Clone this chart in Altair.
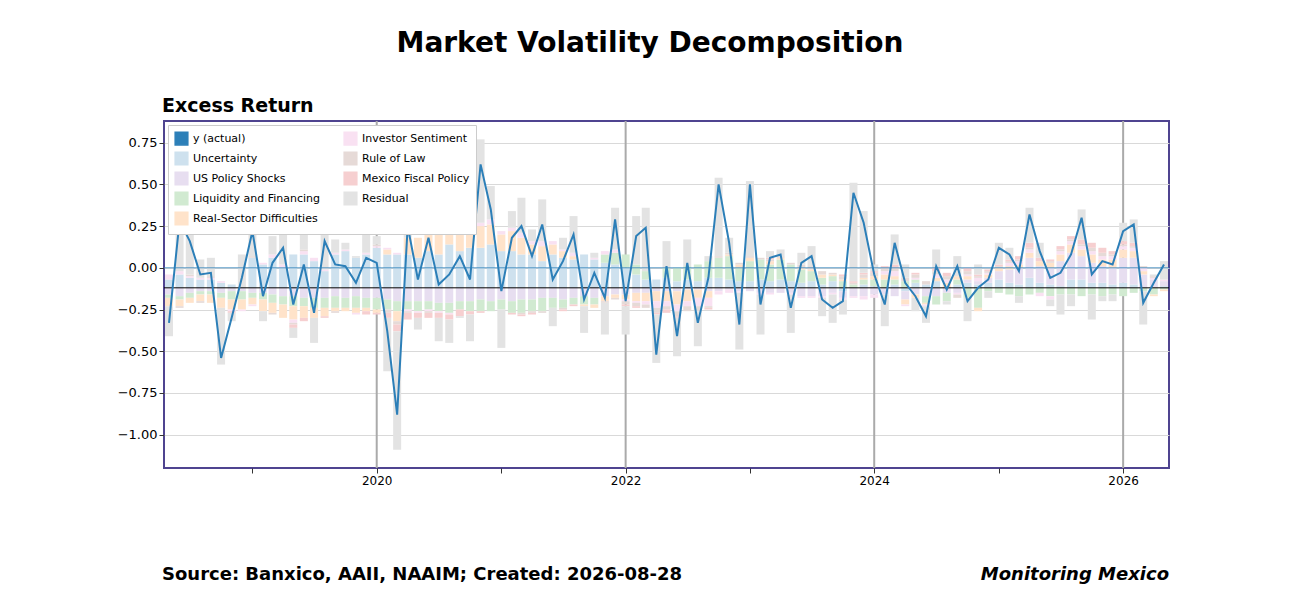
import altair as alt
import pandas as pd

# monthly, 2018-05 .. 2026-05
START = "2018-05-01"
N_MONTHS = 97
BASE = -0.12

Y_ACTUAL = [
    -0.33, 0.28, 0.16, -0.04, -0.03, -0.54, -0.30, -0.06,
    0.22, -0.17, 0.03, 0.12, -0.22, 0.02, -0.27, 0.16, 0.02, 0.01, -0.09, 0.06,
    0.03, -0.38, -0.88, 0.25, -0.07, 0.18, -0.10, -0.04, 0.07, -0.07, 0.62, 0.35,
    -0.14, 0.18, 0.25, 0.07, 0.26, -0.07, 0.04, 0.20, -0.19, -0.03, -0.18, 0.29,
    -0.20, 0.19, 0.24, -0.52, 0.01, -0.41, 0.03, -0.33, -0.06, 0.50, 0.15, -0.34,
    0.50, -0.22, 0.06, 0.08, -0.24, 0.03, 0.07, -0.19, -0.24, -0.20, 0.45, 0.27,
    -0.04, -0.22, 0.15, -0.09, -0.17, -0.29, 0.01, -0.13, 0.01, -0.20, -0.12, -0.07,
    0.12, 0.08, -0.02, 0.32, 0.10, -0.06, -0.03, 0.08, 0.30, -0.04, 0.04, 0.02,
    0.22, 0.26, -0.21, -0.09, 0.02,
]

UNCERTAINTY = [
    0.05, 0.08, 0.06, 0.05, 0.05, 0.03, 0.02, 0.0,
    0.18, 0.14, 0.18, 0.12, 0.2, 0.2, 0.16, 0.1, 0.2, 0.22, 0.18, 0.2,
    0.24, 0.2, 0.2, 0.2, 0.18, 0.22, 0.2, 0.26, 0.22, 0.24, 0.24, 0.26,
    0.22, 0.22, 0.2, 0.2, 0.16, 0.2, 0.18, 0.17, 0.2, 0.17, 0.15, 0.14,
    0.12, 0.08, 0.05, 0.05, 0.06, 0.04, 0.05, 0.04, 0.06, 0.06, 0.05, 0.04,
    0.04, 0.05, 0.04, 0.05, 0.04, 0.03, 0.04, 0.02, 0.04, -0.02, 0.0, 0.02,
    0.01, 0.0, 0.02, -0.02, 0.03, 0.02, 0.04, 0.0, 0.02, 0.03, 0.02, 0.03,
    0.05, 0.03, 0.02, 0.06, 0.03, 0.02, 0.01, 0.05, 0.05, 0.03, 0.03, 0.02,
    0.03, 0.02, 0.0, 0.0, 0.01,
]
US_POLICY = [
    -0.04, -0.05, -0.03, -0.02, -0.02, -0.03, -0.02, -0.02,
    -0.03, -0.03, -0.04, -0.05, -0.05, -0.06, -0.06, -0.06, -0.05, -0.06, -0.05, -0.06,
    -0.06, -0.07, -0.08, -0.08, -0.08, -0.08, -0.09, -0.09, -0.08, -0.08, -0.07, -0.08,
    -0.07, -0.08, -0.07, -0.07, -0.06, -0.06, -0.07, -0.06, -0.05, -0.06, -0.05, -0.04,
    -0.04, -0.03, -0.03, -0.02, -0.02, -0.02, -0.01, -0.01, -0.02, -0.02, -0.01, -0.02,
    -0.02, -0.03, -0.03, -0.03, -0.03, -0.05, -0.05, -0.05, -0.03, -0.04, -0.05, -0.05,
    -0.04, -0.04, -0.05, -0.05, -0.04, -0.05, -0.05, -0.03, -0.03, 0.02, 0.02, 0.03,
    0.05, 0.08, 0.1, 0.12, 0.1, 0.1, 0.15, 0.16, 0.14, 0.12, 0.1, 0.1,
    0.15, 0.16, 0.08, 0.05, 0.03,
]
LIQUIDITY = [
    -0.02, -0.02, -0.03, -0.02, -0.02, -0.03, -0.05, -0.05,
    -0.03, -0.04, -0.05, -0.05, -0.06, -0.05, -0.06, -0.06, -0.07, -0.06, -0.07, -0.06,
    -0.07, -0.06, -0.06, -0.05, -0.06, -0.05, -0.05, -0.06, -0.05, -0.06, -0.07, -0.06,
    -0.06, -0.07, -0.08, -0.07, -0.08, -0.06, -0.05, -0.04, -0.05, -0.04, 0.05, 0.07,
    0.08, 0.06, 0.05, 0.0, 0.06, 0.08, 0.08, 0.1, 0.1, 0.12, 0.14, 0.08,
    0.12, 0.12, 0.1, 0.12, 0.1, 0.08, 0.06, 0.04, 0.03, 0.04, 0.02, 0.03,
    0.04, 0.05, 0.03, 0.04, 0.02, -0.04, -0.05, -0.05, 0.03, -0.06, -0.12, -0.02,
    -0.03, -0.04, -0.05, -0.04, -0.03, -0.05, -0.04, -0.04, -0.05, -0.04, -0.05, -0.04,
    -0.05, -0.03, -0.02, -0.04, -0.01,
]
REAL_SECTOR = [
    -0.05, -0.04, -0.03, -0.04, -0.05, -0.06, -0.06, -0.06,
    -0.04, -0.07, -0.06, -0.08, -0.08, -0.07, -0.06, -0.05, -0.02, -0.02, -0.03, -0.02,
    -0.02, 0.03, -0.06, 0.1, 0.12, 0.12, 0.14, 0.15, 0.14, 0.12, 0.13, 0.12,
    0.1, 0.12, 0.1, 0.06, 0.09, 0.06, 0.04, 0.02, -0.01, -0.02, -0.03, -0.02,
    -0.03, -0.05, -0.05, -0.06, -0.06, -0.08, -0.07, -0.05, -0.04, 0.0, 0.01, 0.02,
    0.02, 0.0, 0.02, 0.01, 0.0, 0.01, 0.01, 0.02, 0.01, 0.01, 0.0, 0.01,
    0.02, 0.03, 0.02, -0.03, -0.02, -0.01, 0.02, 0.03, 0.02, 0.02, -0.02, 0.02,
    0.02, 0.02, 0.02, 0.03, 0.03, 0.03, 0.04, 0.05, 0.04, 0.05, 0.04, 0.05,
    0.05, 0.04, 0.02, -0.01, -0.01,
]
INVESTOR = [
    0.03, 0.02, 0.01, 0.01, 0.01, 0.01, -0.01, -0.01,
    -0.01, 0.01, 0.02, 0.02, -0.02, 0.02, 0.02, 0.01, 0.01, 0.01, -0.01, 0.01,
    0.01, 0.01, 0.01, -0.01, -0.01, -0.01, -0.01, -0.01, 0.01, 0.01, 0.02, 0.03,
    0.02, 0.02, 0.03, 0.02, 0.03, 0.02, 0.01, 0.02, 0.0, 0.01, 0.02, 0.02,
    -0.01, -0.01, -0.02, -0.04, -0.03, -0.04, -0.03, -0.05, -0.05, -0.02, -0.02, -0.01,
    0.0, -0.01, -0.01, 0.0, -0.01, -0.01, -0.01, -0.01, -0.01, -0.01, -0.01, -0.02,
    -0.02, 0.02, 0.03, -0.01, 0.01, -0.01, 0.02, 0.02, -0.01, 0.01, 0.02, 0.01,
    0.0, 0.02, 0.02, 0.02, -0.02, -0.02, 0.02, 0.02, 0.02, 0.02, 0.02, 0.02,
    0.02, 0.02, 0.02, 0.01, 0.01,
]
RULE_OF_LAW = [
    0.0, -0.01, 0.01, -0.01, 0.01, 0.0, 0.0, 0.0,
    0.01, 0.0, -0.01, 0.0, -0.01, 0.01, 0.0, 0.0, -0.01, 0.0, 0.0, 0.0,
    0.01, -0.02, -0.02, -0.01, 0.0, -0.01, 0.0, 0.0, 0.0, 0.0, 0.0, 0.0,
    0.0, 0.0, -0.01, -0.01, -0.01, 0.0, -0.01, 0.0, 0.0, 0.0, -0.01, -0.01,
    -0.02, -0.02, -0.02, -0.03, -0.02, -0.03, -0.03, -0.03, -0.01, 0.01, 0.01, 0.01,
    0.01, 0.01, 0.01, 0.01, 0.01, 0.02, 0.02, 0.02, 0.01, 0.02, 0.01, 0.02,
    0.02, 0.02, 0.02, 0.02, 0.02, 0.02, 0.02, 0.02, -0.02, 0.02, 0.01, 0.01,
    0.01, 0.01, 0.01, 0.01, 0.0, 0.01, 0.01, 0.01, 0.01, 0.02, 0.02, 0.01,
    0.01, 0.01, 0.01, 0.01, 0.0,
]
FISCAL = [
    0.0, 0.0, 0.0, 0.0, 0.0, 0.0, -0.01, 0.0,
    0.0, 0.0, 0.0, 0.0, -0.02, -0.02, 0.0, -0.01, 0.0, 0.0, 0.0, -0.02,
    -0.01, -0.03, -0.04, -0.04, -0.03, -0.03, -0.03, -0.03, -0.04, -0.02, -0.01, 0.0,
    0.0, -0.01, -0.01, -0.01, 0.0, 0.0, -0.01, -0.01, 0.0, 0.0, 0.0, 0.0,
    -0.01, -0.01, 0.0, -0.01, -0.02, -0.01, 0.0, 0.0, -0.01, 0.0, 0.0, 0.0,
    0.0, 0.0, 0.01, 0.0, 0.0, 0.0, 0.0, 0.0, 0.0, 0.01, 0.01, 0.01,
    0.01, 0.01, 0.02, 0.0, 0.01, 0.0, 0.02, 0.02, 0.0, 0.02, 0.01, 0.01,
    0.01, 0.01, 0.02, 0.03, 0.02, 0.01, 0.02, 0.02, 0.03, 0.03, 0.03, 0.02,
    0.02, 0.02, 0.0, 0.0, 0.0,
]

# pastel tones (tab10 colours at ~22% over white)
COMPONENTS = [
    ("Uncertainty", UNCERTAINTY, "#cee1ee"),
    ("US Policy Shocks", US_POLICY, "#e7def0"),
    ("Liquidity and Financing", LIQUIDITY, "#d1ead1"),
    ("Real-Sector Difficulties", REAL_SECTOR, "#ffe3ca"),
    ("Investor Sentiment", INVESTOR, "#f9e1f2"),
    ("Rule of Law", RULE_OF_LAW, "#e6dad7"),
    ("Mexico Fiscal Policy", FISCAL, "#f6cfd0"),
]
RESIDUAL_COLOR = "#e3e3e3"
LINE_COLOR = "#2c7fb8"

dates = pd.date_range(START, periods=N_MONTHS, freq="MS")

# residual = what the named components leave unexplained
residual = [
    Y_ACTUAL[i] - BASE - sum(c[1][i] for c in COMPONENTS) for i in range(N_MONTHS)
]
series = COMPONENTS + [("Residual", residual, RESIDUAL_COLOR)]

rows = []
for i, d in enumerate(dates):
    pos = neg = BASE
    for name, vals, _ in series:
        v = vals[i]
        if v >= 0:
            rows.append({"date": d, "series": name, "y0": pos, "y1": pos + v})
            pos += v
        else:
            rows.append({"date": d, "series": name, "y0": neg, "y1": neg + v})
            neg += v
bars_df = pd.DataFrame(rows)
line_df = pd.DataFrame({"date": dates, "y": Y_ACTUAL})

legend_order = ["y (actual)"] + [n for n, _, _ in series]
color_map = {n: c for n, _, c in series}
color_map["y (actual)"] = LINE_COLOR
COLOR_SCALE = alt.Scale(domain=legend_order, range=[color_map[n] for n in legend_order])

W, H = 1005, 347
x_scale = alt.Scale(domain=["2018-05-01", "2026-05-01"], nice=False)
y_scale = alt.Scale(domain=[-1.2, 0.88], nice=False, zero=False)

x_axis = alt.Axis(
    title=None, grid=False, values=[f"{y}-01-01" for y in range(2019, 2027)],
    labelExpr="year(datum.value) % 2 == 0 ? timeFormat(datum.value, '%Y') : ''",
    labelFontSize=12, tickColor="#333", labelColor="#000", domain=False,
)
y_axis = alt.Axis(
    title=None, values=[-1.0, -0.75, -0.5, -0.25, 0, 0.25, 0.5, 0.75], format=".2f",
    gridColor="#d9d9d9", labelFontSize=13, labelColor="#000", domain=False,
    tickColor="#333",
)

bars = alt.Chart(bars_df).mark_bar(size=8, clip=True).encode(
    x=alt.X("date:T", scale=x_scale, axis=x_axis),
    y=alt.Y("y0:Q", scale=y_scale, axis=y_axis),
    y2="y1:Q",
    color=alt.Color("series:N", scale=COLOR_SCALE, legend=alt.Legend(
        title=None, orient="top-left", columns=2, symbolType="square",
        symbolSize=160, labelFontSize=11, columnPadding=20,
        rowPadding=1, fillColor="white", strokeColor="#ccc", padding=6,
        offset=4, labelColor="#000",
    )),
)

year_rules = alt.Chart(pd.DataFrame({"date": pd.to_datetime(
    ["2020-01-01", "2022-01-01", "2024-01-01", "2026-01-01"])})).mark_rule(
    color="#aaaaaa", strokeWidth=2).encode(x="date:T")

zero_rule = alt.Chart(pd.DataFrame({"v": [0.0]})).mark_rule(
    color=LINE_COLOR, strokeWidth=1, opacity=0.8).encode(y="v:Q")
base_rule = alt.Chart(pd.DataFrame({"v": [BASE]})).mark_rule(
    color="black", strokeWidth=1).encode(y="v:Q")

line = alt.Chart(line_df).mark_line(strokeWidth=2, clip=True).encode(
    x="date:T", y="y:Q", color=alt.datum("y (actual)"),
)


def label(text, x, y, size, align="left", style="normal"):
    return alt.Chart(pd.DataFrame({"t": [text]})).mark_text(
        align=align, baseline="middle", fontSize=size, fontWeight="bold",
        fontStyle=style, font="DejaVu Sans", color="black",
    ).encode(x=alt.value(x), y=alt.value(y), text="t:N")


texts = (
    label("Market Volatility Decomposition", 486, -77, 28, align="center")
    + label("Excess Return", -2, -15, 19)
    + label("Source: Banxico, AAII, NAAIM; Created: 2026-08-28", -2, 454, 18)
    + label("Monitoring Mexico", W, 454, 18, align="right", style="italic")
)

chart = (
    alt.layer(year_rules, bars, zero_rule, base_rule, line, texts)
    .properties(
        width=W, height=H,
        autosize=alt.AutoSizeParams(type="none"),
        padding={"left": 156, "top": 113, "right": 120, "bottom": 130},
    )
    .configure(font="DejaVu Sans")
    .configure_view(stroke="#4f4490", strokeWidth=2)
)

chart.save("out.html", embed_options={"renderer": "svg", "actions": False})
